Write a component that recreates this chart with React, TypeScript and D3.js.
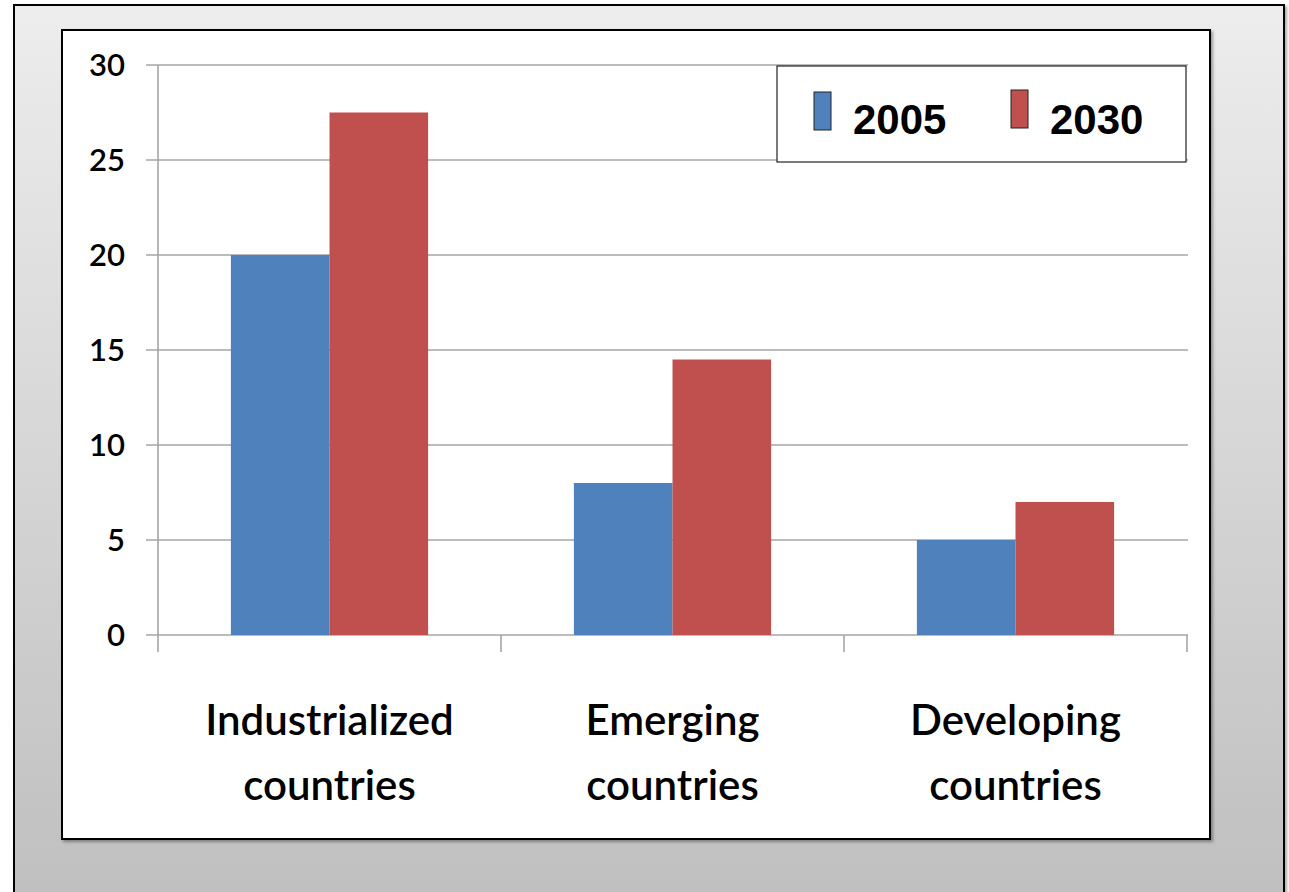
import React, { useEffect, useRef } from "react";
import * as d3 from "d3";

const categories = ["Industrialized countries", "Emerging countries", "Developing countries"];
const seriesNames = ["2005", "2030"];
const values2005 = [20, 8, 5];
const values2030 = [27.5, 14.5, 7];
const yTicks = [0, 5, 10, 15, 20, 25, 30];
const colors = ["#4F81BD", "#C0504D"];

export default function App() {
  const ref = useRef<SVGSVGElement | null>(null);

  useEffect(() => {
    const svg = d3.select(ref.current);
    svg.selectAll("*").remove();

    const W = 1289, H = 892;
    const defs = svg.append("defs");
    const grad = defs.append("linearGradient").attr("id", "bg").attr("x1", 0).attr("y1", 0).attr("x2", 0).attr("y2", 1);
    grad.append("stop").attr("offset", "0%").attr("stop-color", "#ededed");
    grad.append("stop").attr("offset", "100%").attr("stop-color", "#bfbfbf");
    const sh = defs.append("filter").attr("id", "sh").attr("x", "-5%").attr("y", "-5%").attr("width", "110%").attr("height", "110%");
    sh.append("feDropShadow").attr("dx", 2).attr("dy", 2).attr("stdDeviation", 1.5).attr("flood-color", "#000").attr("flood-opacity", 0.35);

    svg.append("rect").attr("width", W).attr("height", H).attr("fill", "#fff");
    // outer frame
    svg.append("rect").attr("x", 14).attr("y", 5).attr("width", 1270).attr("height", 900)
      .attr("fill", "url(#bg)").attr("stroke", "#000").attr("stroke-width", 2).attr("filter", "url(#sh)");
    // inner panel
    svg.append("rect").attr("x", 62).attr("y", 30).attr("width", 1148).attr("height", 809)
      .attr("fill", "#fff").attr("stroke", "#000").attr("stroke-width", 2).attr("filter", "url(#sh)");

    const left = 158, right = 1187, top = 65, bottom = 635;
    const x0 = d3.scaleBand<string>().domain(categories).range([left, right]).paddingInner(0).paddingOuter(0);
    const x1 = d3.scaleBand<string>().domain(seriesNames).range([0, x0.bandwidth() * 0.575]).padding(0);
    const y = d3.scaleLinear().domain([0, 30]).range([bottom, top]);

    const g = svg.append("g");
    // gridlines
    g.selectAll("line.grid").data(yTicks).enter().append("line")
      .attr("x1", left - 12).attr("x2", right + 1)
      .attr("y1", (d) => y(d)).attr("y2", (d) => y(d))
      .attr("stroke", "#a6a6a6").attr("stroke-width", 1.6);
    // y axis line
    g.append("line").attr("x1", left).attr("x2", left).attr("y1", top).attr("y2", bottom + 17)
      .attr("stroke", "#a6a6a6").attr("stroke-width", 1.6);
    // x ticks
    const xt = categories.map((c) => x0(c)!).concat([right]);
    g.selectAll("line.xt").data(xt.slice(1)).enter().append("line")
      .attr("x1", (d) => d).attr("x2", (d) => d).attr("y1", bottom).attr("y2", bottom + 17)
      .attr("stroke", "#a6a6a6").attr("stroke-width", 1.6);

    // y labels
    g.selectAll("text.yl").data(yTicks).enter().append("text")
      .attr("x", 125).attr("y", (d) => y(d)).attr("dy", "0.36em")
      .attr("text-anchor", "end").attr("font-family", "Lato, sans-serif").attr("font-weight", 600)
      .attr("font-size", 31).attr("fill", "#000").text((d) => String(d));

    const data = [values2005, values2030];
    const groupW = x0.bandwidth() * 0.575;
    categories.forEach((c, i) => {
      const gx = x0(c)! + (x0.bandwidth() - groupW) / 2;
      seriesNames.forEach((s, j) => {
        g.append("rect")
          .attr("x", gx + x1(s)!).attr("width", x1.bandwidth())
          .attr("y", y(data[j][i])).attr("height", bottom - y(data[j][i]))
          .attr("fill", colors[j]);
      });
      const cx = x0(c)! + x0.bandwidth() / 2;
      const words = c.split(" ");
      const t = g.append("text").attr("text-anchor", "middle")
        .attr("font-family", "Lato, sans-serif").attr("font-weight", 600)
        .attr("font-size", 42).attr("fill", "#000");
      t.append("tspan").attr("x", cx).attr("y", 735).text(words[0]);
      t.append("tspan").attr("x", cx).attr("y", 800).text(words[1]);
    });

    // legend
    svg.append("rect").attr("x", 777).attr("y", 66).attr("width", 409).attr("height", 96)
      .attr("fill", "#fff").attr("stroke", "#222").attr("stroke-width", 1.2);
    const lx = [814, 1011];
    seriesNames.forEach((s, j) => {
      svg.append("rect").attr("x", lx[j]).attr("y", j === 0 ? 92 : 90).attr("width", 17).attr("height", 38)
        .attr("fill", colors[j]).attr("stroke", "#222").attr("stroke-width", 1);
      svg.append("text").attr("x", lx[j] + 39).attr("y", 134)
        .attr("font-family", "'Liberation Sans', Arial, sans-serif").attr("font-weight", "bold")
        .attr("font-size", 42).attr("fill", "#000").text(s);
    });
  }, []);

  return (
    <svg ref={ref} width={1289} height={892}
      style={{ position: "absolute", left: 0, top: 0, display: "block" }} />
  );
}
